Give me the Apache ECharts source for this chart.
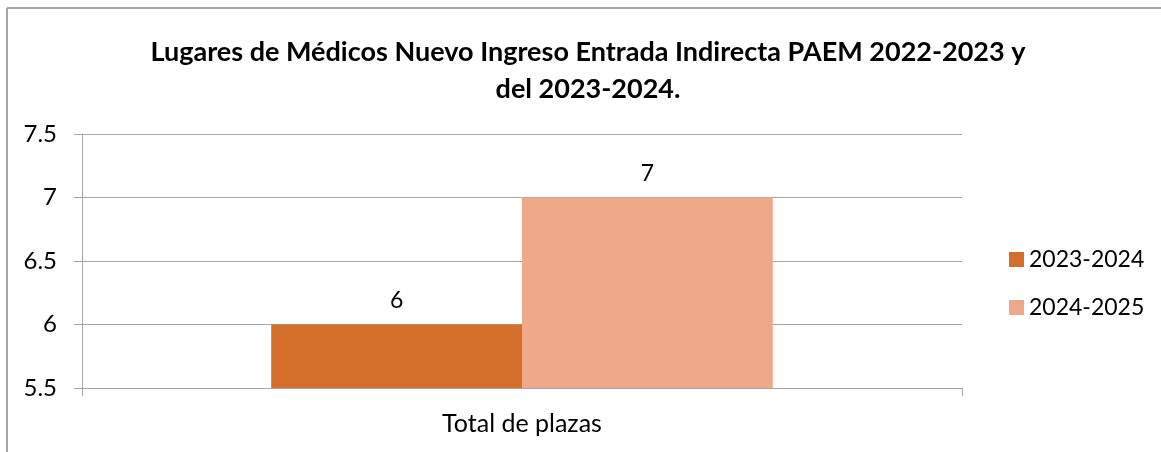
<!DOCTYPE html>
<html>
<head>
<meta charset="utf-8">
<script src="https://cdn.jsdelivr.net/npm/echarts@6/dist/echarts.min.js"></script>
<style>
  html, body { margin: 0; padding: 0; background: #fff; }
  #chart { width: 1161px; height: 452px; }
</style>
</head>
<body>
<div id="chart"></div>
<script>
const categorias = ["Total de plazas"];
const serie2023 = [6];
const serie2024 = [7];
const nombres = ["2023-2024", "2024-2025"];
const titulo = "Lugares de Médicos Nuevo Ingreso Entrada Indirecta PAEM 2022-2023 y\ndel 2023-2024.";

const fuente = "Lato, 'Open Sans', sans-serif";
const gris = "#a6a6a6";

const initChart = () => {
  const myChart = echarts.init(document.getElementById("chart"));
  const etiqueta = { show: true, position: "top", distance: 12, color: "#000", fontSize: 23, fontFamily: fuente };
  myChart.setOption({
    animation: false,
    textStyle: { fontFamily: fuente },
    title: {
      text: titulo,
      left: 583, top: 29, textAlign: "center",
      textStyle: { fontSize: 27, fontWeight: "bold", color: "#000", lineHeight: 37, fontFamily: fuente }
    },
    graphic: [
      { type: "line", shape: { x1: 7, y1: 8, x2: 7, y2: 452 }, style: { stroke: gris, lineWidth: 2 } },
      { type: "line", shape: { x1: 7, y1: 8, x2: 1161, y2: 8 }, style: { stroke: gris, lineWidth: 2 } }
    ],
    legend: {
      orient: "vertical",
      left: 1004, top: 243,
      itemWidth: 15, itemHeight: 15, itemGap: 25,
      icon: "rect",
      textStyle: { fontSize: 23, color: "#000", fontFamily: fuente },
      data: nombres
    },
    grid: { left: 82, right: 199, top: 134, bottom: 64 },
    xAxis: {
      type: "category",
      data: categorias,
      axisLine: { lineStyle: { color: gris, width: 1 } },
      axisTick: { show: true, length: 8, lineStyle: { color: gris } },
      axisLabel: { fontSize: 25, color: "#000", margin: 23 }
    },
    yAxis: {
      type: "value",
      min: 5.5, max: 7.5, interval: 0.5,
      axisLine: { show: true, lineStyle: { color: gris, width: 1 } },
      axisTick: { show: true, length: 8, lineStyle: { color: gris } },
      splitLine: { lineStyle: { color: gris, width: 1 } },
      axisLabel: { fontSize: 24, color: "#000", margin: 25 }
    },
    series: [
      { name: nombres[0], type: "bar", data: serie2023, itemStyle: { color: "#d36f2b" },
        barGap: "0%", barCategoryGap: "43%", label: etiqueta },
      { name: nombres[1], type: "bar", data: serie2024, itemStyle: { color: "#f0a88a" },
        barGap: "0%", barCategoryGap: "43%", label: etiqueta }
    ]
  });
};

window.addEventListener("load", initChart);
</script>
</body>
</html>
